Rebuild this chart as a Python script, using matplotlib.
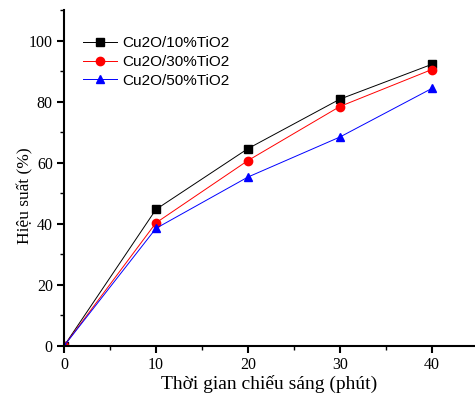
import matplotlib
matplotlib.use('Agg')
import matplotlib.pyplot as plt
from matplotlib.ticker import MultipleLocator

# Data
time_min = [0, 10, 20, 30, 40]
cu_10 = [0, 44.7, 64.6, 80.8, 92.2]
cu_30 = [0, 40.3, 60.7, 78.4, 90.5]
cu_50 = [0, 38.5, 55.3, 68.4, 84.3]
labels = ['Cu2O/10%TiO2', 'Cu2O/30%TiO2', 'Cu2O/50%TiO2']

fig = plt.figure(figsize=(4.75, 3.93), dpi=100)
ax = fig.add_axes([0.1347, 0.1196, 0.8653, 0.855])

ax.plot(time_min, cu_10, color='black', marker='s', markersize=5.5, lw=0.7, label=labels[0])
ax.plot(time_min, cu_30, color='red', marker='o', markersize=6, lw=0.7, label=labels[1])
ax.plot(time_min, cu_50, color='blue', marker='^', markersize=6, lw=0.7, label=labels[2])

ax.set_xlim(0, 44.7)
ax.set_ylim(0, 110)
ax.xaxis.set_major_locator(MultipleLocator(10))
ax.xaxis.set_minor_locator(MultipleLocator(5))
ax.yaxis.set_major_locator(MultipleLocator(20))
ax.yaxis.set_minor_locator(MultipleLocator(10))

for s in ['top', 'right']:
    ax.spines[s].set_visible(False)
for s in ['left', 'bottom']:
    ax.spines[s].set_linewidth(1.5)

ax.tick_params(which='major', direction='out', length=5, width=1.5,
               labelsize=11.5, pad=3)
ax.tick_params(which='minor', direction='out', length=3, width=1.0)
for lab in ax.get_xticklabels() + ax.get_yticklabels():
    lab.set_family('Liberation Serif')

ax.set_xlabel('Thời gian chiếu sáng (phút)', family='Liberation Serif', fontsize=14, labelpad=1)
ax.set_ylabel('Hiệu suất (%)', family='Liberation Serif', fontsize=12.5)
ax.yaxis.set_label_coords(-0.075, 0.446)

ax.legend(loc='upper left', bbox_to_anchor=(0.02, 0.953), frameon=False,
          prop={'family': 'Liberation Sans', 'size': 11},
          handlelength=2.2, handletextpad=0.4, labelspacing=0.3, borderaxespad=0.3)

fig.savefig('out.png', dpi=100)
